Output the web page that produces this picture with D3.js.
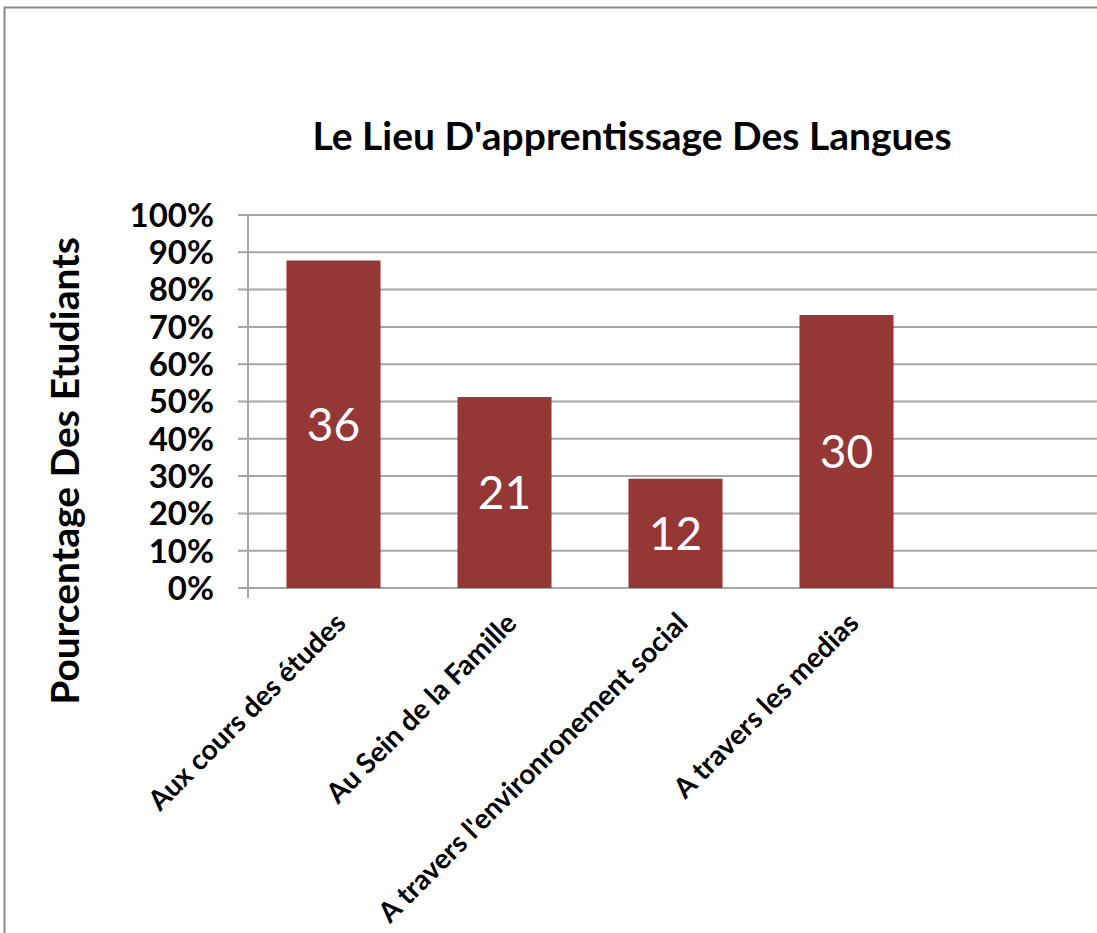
<!DOCTYPE html>
<html>
<head>
<meta charset="utf-8">
<script src="https://cdn.jsdelivr.net/npm/d3@7"></script>
<style>
  body { margin: 0; background: #fff; }
  text { font-family: Lato, "Open Sans", sans-serif; }
</style>
</head>
<body>
<script>
// données
const categories = ["Aux cours des études", "Au Sein de la Famille", "A travers l'environronement social", "A travers les medias", ""];
const percents = [0.878, 0.512, 0.293, 0.732, null];
const counts = [36, 21, 12, 30, null];
const yTicks = [0, 0.1, 0.2, 0.3, 0.4, 0.5, 0.6, 0.7, 0.8, 0.9, 1.0];

const W = 1097, H = 933;
const m = { left: 248, top: 215, right: -6, bottom: 345 };

const svg = d3.select("body").append("svg")
  .attr("width", W).attr("height", H);

// cadre
svg.append("rect")
  .attr("x", 4.5).attr("y", 7.5)
  .attr("width", W + 20).attr("height", H + 20)
  .attr("fill", "none").attr("stroke", "#8a8a8a").attr("stroke-width", 2);

const x = d3.scaleBand()
  .domain(categories.map((c, i) => i))
  .range([m.left, W - m.right])
  .paddingInner(0.45).paddingOuter(0.225);

const y = d3.scaleLinear().domain([0, 1]).range([588, m.top]);

// grille
svg.append("g").selectAll("line")
  .data(yTicks)
  .enter().append("line")
  .attr("x1", 238).attr("x2", W)
  .attr("y1", d => y(d)).attr("y2", d => y(d))
  .attr("stroke", "#a6a6a6").attr("stroke-width", 2);

// axe vertical
svg.append("line")
  .attr("x1", m.left).attr("x2", m.left)
  .attr("y1", y(1)).attr("y2", 598)
  .attr("stroke", "#a6a6a6").attr("stroke-width", 2);

// libellés y
svg.append("g").selectAll("text")
  .data(yTicks)
  .enter().append("text")
  .attr("x", 214).attr("y", d => y(d))
  .attr("dy", "0.36em")
  .attr("text-anchor", "end")
  .style("font-size", "33px").style("font-weight", "bold")
  .text(d => d3.format(".0%")(d));

// barres
const bars = categories.map((c, i) => ({ i, p: percents[i], n: counts[i] })).filter(d => d.p != null);

svg.append("g").selectAll("rect")
  .data(bars)
  .enter().append("rect")
  .attr("x", d => x(d.i))
  .attr("width", x.bandwidth())
  .attr("y", d => y(d.p))
  .attr("height", d => y(0) - y(d.p))
  .attr("fill", "#953735");

svg.append("g").selectAll("text")
  .data(bars)
  .enter().append("text")
  .attr("x", d => x(d.i) + x.bandwidth() / 2)
  .attr("y", d => (y(d.p) + y(0)) / 2)
  .attr("dy", "0.36em")
  .attr("text-anchor", "middle")
  .attr("fill", "#fff")
  .style("font-size", "46px")
  .text(d => d.n);

// libellés x inclinés
svg.append("g").selectAll("text")
  .data(bars)
  .enter().append("text")
  .attr("transform", d => `translate(${x(d.i) + x.bandwidth() / 2},${611}) rotate(-45)`)
  .attr("text-anchor", "end")
  .attr("dy", "0.7em")
  .style("font-size", "28px").style("font-weight", "bold")
  .text(d => categories[d.i]);

// titre
svg.append("text")
  .attr("x", 632).attr("y", 150)
  .attr("text-anchor", "middle")
  .style("font-size", "39px").style("font-weight", "bold")
  .text("Le Lieu D'apprentissage Des Langues");

// titre axe y
svg.append("text")
  .attr("transform", "translate(79,471) rotate(-90)")
  .attr("text-anchor", "middle")
  .style("font-size", "39px").style("font-weight", "bold")
  .text("Pourcentage Des Etudiants");
</script>
</body>
</html>
